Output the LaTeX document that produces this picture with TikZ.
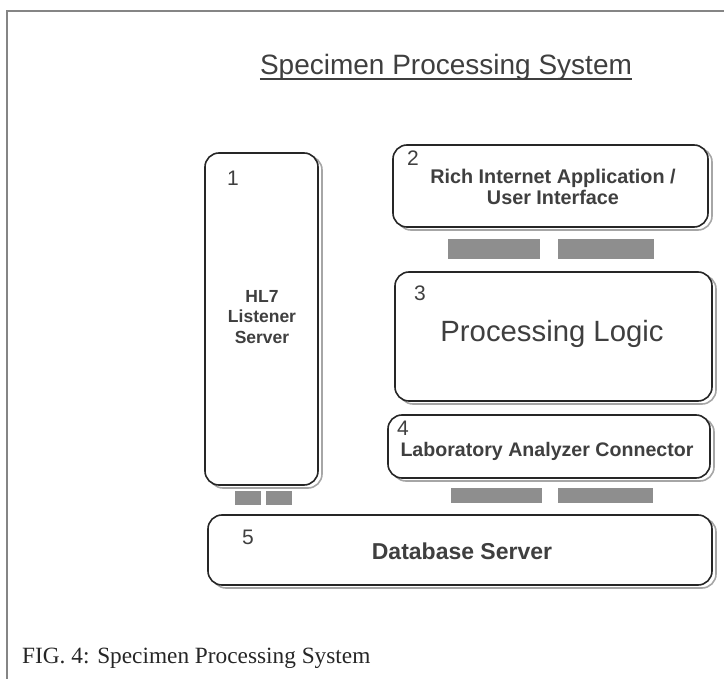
\documentclass[tikz,border=0pt]{standalone}
\usepackage{fontspec}
\setmainfont{Liberation Serif}
\newfontfamily\labelfont{Liberation Sans}
\usetikzlibrary{shadows}
\definecolor{inkgray}{HTML}{3F3F3F}
\definecolor{framegray}{HTML}{858585}
\definecolor{bargray}{HTML}{8E8E8E}
\begin{document}
\begin{tikzpicture}[x=1pt,y=-1pt,
  sysbox/.style={draw=black!85, line width=1.6pt, fill=white, rounded corners=14pt,
    inner sep=0pt, outer sep=0pt,
    general shadow={draw=gray!70, fill=none, line width=1.6pt,
      shadow xshift=4pt, shadow yshift=-3pt}},
  boxtext/.style={text=inkgray, align=center, inner sep=0pt,
    font=\labelfont\bfseries\fontsize{19}{22}\selectfont},
  boxnum/.style={text=inkgray, inner sep=0pt,
    font=\labelfont\fontsize{21}{24}\selectfont},
  linkbar/.style={fill=bargray, draw=none, inner sep=0pt, outer sep=0pt}]
  \useasboundingbox (0,0) rectangle (724,679);
  % page frame
  \draw[framegray, line width=2pt] (7,679) -- (7,11) -- (724,11);

  % title
  \node[anchor=base, text=inkgray, inner sep=0pt,
        font=\labelfont\fontsize{28}{32}\selectfont] (title) at (446,75)
        {Specimen Processing System};
  \draw[inkgray, line width=1.8pt] ([yshift=-4pt]title.base west) -- ([yshift=-4pt]title.base east);

  % components
  \node[sysbox, minimum width=113pt, minimum height=332pt] (hl7) at (261.5,319) {};
  \node[sysbox, minimum width=315pt, minimum height=82pt] (ria) at (550.5,186) {};
  \node[sysbox, minimum width=317pt, minimum height=129pt] (logic) at (553.5,336.5) {};
  \node[sysbox, minimum width=322pt, minimum height=63pt] (lac) at (549,446.5) {};
  \node[sysbox, minimum width=504pt, minimum height=70pt] (db) at (460,550) {};

  % links between components
  \node[linkbar, minimum width=92pt, minimum height=20pt] (riaLogicA) at (494,249) {};
  \node[linkbar, minimum width=96pt, minimum height=20pt] (riaLogicB) at (606,249) {};
  \node[linkbar, minimum width=91pt, minimum height=15pt] (lacDbA) at (496.5,495.5) {};
  \node[linkbar, minimum width=95pt, minimum height=15pt] (lacDbB) at (605.5,495.5) {};
  \node[linkbar, minimum width=26pt, minimum height=14pt] (hl7DbA) at (248,498) {};
  \node[linkbar, minimum width=26pt, minimum height=14pt] (hl7DbB) at (279,498) {};

  % numbers
  \node[boxnum] (n1) at (233,178) {1};
  \node[boxnum] (n2) at (413,158) {2};
  \node[boxnum] (n3) at (420,293) {3};
  \node[boxnum] (n4) at (403,428) {4};
  \node[boxnum] (n5) at (248,537) {5};

  % labels
  \node[boxtext, font=\labelfont\bfseries\fontsize{17.5}{20.5}\selectfont] (t1) at (262,317) {HL7\\Listener\\Server};
  \node[boxtext, font=\labelfont\bfseries\fontsize{19.8}{21}\selectfont] (t2) at (553,187) {Rich Internet Application /\\User Interface};
  \node[boxtext, font=\labelfont\fontsize{29.3}{32}\selectfont] (t3) at (552,334) {Processing Logic};
  \node[boxtext, font=\labelfont\bfseries\fontsize{19.6}{22}\selectfont] (t4) at (547,451) {Laboratory Analyzer Connector};
  \node[boxtext, font=\labelfont\bfseries\fontsize{23}{26}\selectfont] (t5) at (462,551) {Database Server};

  % caption
  \node[anchor=base west, inner sep=0pt, text=black!85,
        font=\fontsize{23.3}{28}\selectfont] (caption) at (22,663)
        {FIG. 4: Specimen Processing System};
\end{tikzpicture}
\end{document}
